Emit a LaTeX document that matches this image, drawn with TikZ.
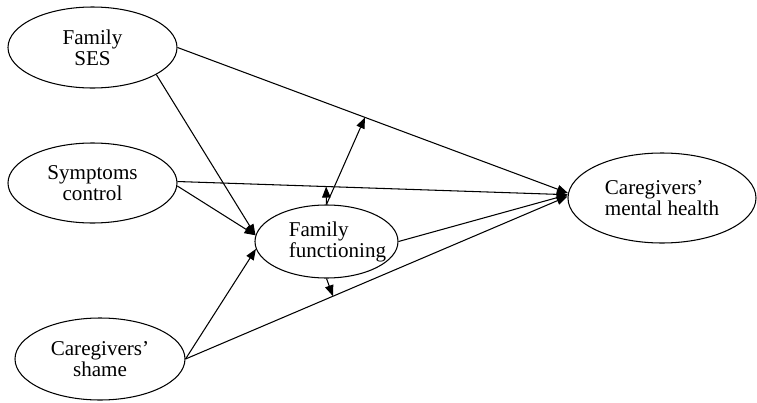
\documentclass[tikz,border=0pt]{standalone}
\usepackage{fontspec}
\setmainfont{Liberation Serif}
\usetikzlibrary{shapes.geometric,arrows.meta}
\begin{document}
\begin{tikzpicture}[var/.style={ellipse,draw,inner sep=0pt,align=center},line width=0.6pt,>={Triangle[length=2.2mm,width=1.7mm]},font=\fontsize{12}{12}\selectfont]
  \useasboundingbox (0,0) rectangle (15.14,8.04);

    %predictors
    \node (SES) at (1.85,7.09)[var,minimum width=3.38cm,minimum height=1.62cm]{Family\\SES};
    \node (Sym) at (1.85,4.38)[var,minimum width=3.38cm,minimum height=1.60cm]{Symptoms\\control};
    \node (Shame) at (2.00,0.86)[var,minimum width=3.40cm,minimum height=1.64cm]{Caregivers’\\shame};

    %mediator
    \node (FF) at (6.53,3.21)[var,minimum width=2.86cm,minimum height=1.46cm]{};
    \node (FFtext) at (6.75,3.21)[align=left]{Family\\functioning};

    %outcome
    \node (MH) at (13.24,4.08)[var,align=left,minimum width=3.76cm,minimum height=1.80cm]{Caregivers’\\mental health};

    %direct paths
    \draw [->] (SES.0) -- coordinate[pos=0.48] (SESMH) (MH.177);
    \draw [->] (Sym.1) -- coordinate[pos=0.381] (SymMH) (MH.178);
    \draw [->] (Shame.0) -- coordinate[pos=0.386] (ShameMH) (MH.179);

    %paths to mediator
    \draw [->] (SES.-23) to (FF.175);
    \draw [->] (Sym.-2) to (FF.175);
    \draw [->] (Shame.0) to (FF.186);
    \draw [->] (FF.0) to (MH.178);

    %moderation
    \draw [->] (FF.90) to (SESMH);
    \draw [->] (FF.90) to (SymMH);
    \draw [->] (FF.270) to (ShameMH);
\end{tikzpicture}
\end{document}
